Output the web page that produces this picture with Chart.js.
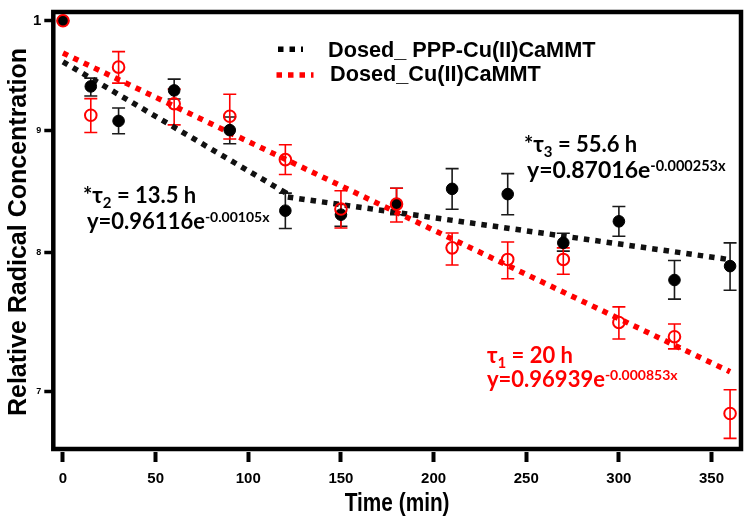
<!DOCTYPE html>
<html><head><meta charset="utf-8">
<script src="https://cdn.jsdelivr.net/npm/chart.js@4"></script>
<style>html,body{margin:0;padding:0;background:#fff}#wrap{width:752px;height:522px}</style>
</head><body><div id="wrap"><canvas id="c" width="752" height="522"></canvas></div>
<script>
// ---- data ----
const times = [0,15,30,60,90,120,150,180,210,240,270,300,330,360];
const pppMean = [1.0,0.9387,0.9080,0.9351,0.9000,0.8328,0.8296,0.8381,0.8505,0.8462,0.8074,0.8243,0.7790,0.7895];
const pppHigh = [1.0,0.9462,0.9194,0.9453,0.9115,0.8470,0.8378,0.8510,0.8672,0.8631,0.8149,0.8362,0.7938,0.8074];
const pppLow  = [1.0,0.9301,0.8968,0.9274,0.8883,0.8186,0.8204,0.8296,0.8339,0.8296,0.8010,0.8125,0.7648,0.7714];
const cuMean  = [1.0,0.9130,0.9563,0.9232,0.9121,0.8748,0.8341,0.8381,0.8035,0.7946,0.7946,0.7478,0.7376,0.6850];
const cuHigh  = [1.0,0.9277,0.9707,0.9363,0.9316,0.8874,0.8489,0.8510,0.8151,0.8081,0.8035,0.7591,0.7467,0.7009];
const cuLow   = [1.0,0.8979,0.9417,0.9046,0.8923,0.8623,0.8190,0.8238,0.7903,0.7800,0.7833,0.7360,0.7290,0.6688];
// fitted exponential curves (straight lines on the log axis) - endpoints
const pppFitX = [0,120,120,360];
const pppFitY = [0.9612,0.8474,0.8441,0.7944];
const cuFitX = [0,360];
const cuFitY = [0.9694,0.7131];
const xTicks = [0,50,100,150,200,250,300,350];
const yTicks = [0.7,0.8,0.9,1];
const yTickLabels = ['7','8','9','1'];
const pppLabel = 'Dosed_ PPP-Cu(II)CaMMT';
const cuLabel = 'Dosed_Cu(II)CaMMT';
const xTitle = 'Time (min)';
const yTitle = 'Relative Radical Concentration';

const RED = '#ff0000', BLK = '#000000';
const sans = "'Liberation Sans',Arial,sans-serif";
const annFont = "Lato,'Open Sans',sans-serif";

const framePlugin = {
  id:'frame',
  beforeDatasetsDraw(chart){
    const {ctx, chartArea:a} = chart;
    ctx.save(); ctx.strokeStyle='#000'; ctx.lineWidth=4.5;
    ctx.strokeRect(a.left, a.top, a.right-a.left, a.bottom-3-a.top);
    ctx.restore();
  }
};

const errPlugin = {
  id:'err',
  beforeDatasetsDraw(chart){
    const ctx=chart.ctx, xs=chart.scales.x, ys=chart.scales.y;
    const sets=[[pppLow,pppHigh,'#1a1a1a'],[cuLow,cuHigh,RED]];
    ctx.save(); ctx.lineWidth=1.6;
    sets.forEach(([lo,hi,col])=>{
      ctx.strokeStyle=col;
      times.forEach((t,i)=>{
        if (lo[i]===hi[i]) return;
        const x=xs.getPixelForValue(t), y1=ys.getPixelForValue(hi[i]), y2=ys.getPixelForValue(lo[i]);
        ctx.beginPath(); ctx.moveTo(x,y1); ctx.lineTo(x,y2);
        ctx.moveTo(x-6.5,y1); ctx.lineTo(x+6.5,y1);
        ctx.moveTo(x-6.5,y2); ctx.lineTo(x+6.5,y2); ctx.stroke();
      });
    });
    ctx.restore();
  }
};

function rich(ctx, x, y, parts, color){
  ctx.fillStyle=color; ctx.textBaseline='alphabetic'; ctx.textAlign='left';
  let cx=x;
  parts.forEach(p=>{
    ctx.font='bold '+p.s+'px '+annFont;
    ctx.fillText(p.t, cx, y+(p.dy||0));
    cx+=ctx.measureText(p.t).width;
  });
}

const annPlugin = {
  id:'ann',
  afterDraw(chart){
    const ctx=chart.ctx, a=chart.chartArea;
    ctx.save();
    // condensed x-axis title
    ctx.save();
    ctx.translate((a.left+a.right)/2, 503.5); ctx.scale(0.8,1);
    ctx.fillStyle='#000'; ctx.font='bold 26px '+sans; ctx.textAlign='center'; ctx.textBaseline='middle';
    ctx.fillText(xTitle,0,0);
    ctx.restore();
    // legend
    const items=[[pppLabel,BLK,278,303,49.3,328,56.7],[cuLabel,RED,276.5,313.5,75,330,80.5]];
    items.forEach(([lab,col,x0,x1,ly,tx,ty])=>{
      ctx.save(); ctx.strokeStyle=col; ctx.lineWidth=5.5; ctx.setLineDash([5.5,6]); ctx.lineCap='butt';
      ctx.beginPath(); ctx.moveTo(x0,ly); ctx.lineTo(x1,ly); ctx.stroke(); ctx.restore();
      ctx.fillStyle='#000'; ctx.font='bold 21.7px '+sans; ctx.textBaseline='alphabetic'; ctx.textAlign='left';
      ctx.fillText(lab, tx, ty);
    });
    // annotations
    rich(ctx,83,203,[{t:'*',s:22},{t:'τ',s:22},{t:'2',s:15,dy:5},{t:' = 13.5 h',s:22}],BLK);
    rich(ctx,87,229,[{t:'y=0.96116e',s:22},{t:'-0.00105x',s:14,dy:-7}],BLK);
    rich(ctx,524,152,[{t:'*',s:22},{t:'τ',s:22},{t:'3',s:15,dy:5},{t:' = 55.6 h',s:22}],BLK);
    rich(ctx,527,178,[{t:'y=0.87016e',s:23},{t:'-0.000253x',s:14.5,dy:-7}],BLK);
    rich(ctx,487,363,[{t:'τ',s:22},{t:'1',s:15,dy:5},{t:' = 20 h',s:22}],RED);
    rich(ctx,487,387,[{t:'y=0.96939e',s:22},{t:'-0.000853x',s:14,dy:-7}],RED);
    ctx.restore();
  }
};

new Chart(document.getElementById('c'), {
  type:'scatter',
  data:{datasets:[
    {label:cuLabel, data:times.map((t,i)=>({x:t,y:cuMean[i]})), pointStyle:'circle', pointRadius:5.8,
     pointBorderWidth:2, pointBorderColor:RED, pointBackgroundColor:'rgba(0,0,0,0)', showLine:false, order:0},
    {label:pppLabel, data:times.map((t,i)=>({x:t,y:pppMean[i]})), pointStyle:'circle', pointRadius:5.8,
     pointBorderWidth:1, pointBorderColor:BLK, pointBackgroundColor:BLK, showLine:false, order:1},
    {label:cuLabel+' fit', type:'line', data:cuFitX.map((x,i)=>({x:x,y:cuFitY[i]})), borderColor:RED,
     borderWidth:5.5, borderDash:[5.5,6], pointRadius:0, fill:false, tension:0, order:2},
    {label:pppLabel+' fit', type:'line', data:pppFitX.map((x,i)=>({x:x,y:pppFitY[i]})), borderColor:'#111',
     borderWidth:5.5, borderDash:[5.5,6], pointRadius:0, fill:false, tension:0, order:3}
  ]},
  options:{
    responsive:false, animation:false, devicePixelRatio:1,
    layout:{padding:{left:0,right:11,top:9.5,bottom:0}},
    plugins:{legend:{display:false}, tooltip:{enabled:false}},
    scales:{
      x:{type:'linear', min:-5.23, max:365.9,
        afterFit(s){ s.height=70; },
        afterBuildTicks(s){ s.ticks=xTicks.map(v=>({value:v})); },
        grid:{display:true, drawOnChartArea:false, drawTicks:true, tickLength:10, tickWidth:4, tickColor:'#000'},
        border:{display:false},
        ticks:{color:'#000', padding:8, autoSkip:false, maxRotation:0, font:{family:sans, size:15, weight:'bold'}},
        title:{display:false, text:xTitle}
      },
      y:{type:'logarithmic', min:0.660065, max:1.008465,
        afterFit(s){ s.width=53.3; },
        afterBuildTicks(s){ s.ticks=yTicks.map(v=>({value:v})); },
        grid:{display:true, drawOnChartArea:false, drawTicks:true, tickLength:9, tickWidth:3.5, tickColor:'#000'},
        border:{display:false},
        ticks:{color:'#000', padding:3, autoSkip:false,
          callback:(v)=>{ const i=yTicks.indexOf(v); return i>=0?yTickLabels[i]:''; },
          font:(c)=> (c.tick && c.tick.value===1) ? {family:sans,size:15,weight:'bold'} : {family:sans,size:9,weight:'bold'}},
        title:{display:true, text:yTitle, color:'#000', font:{family:sans, size:25, weight:'bold'}, padding:{top:4,bottom:0}}
      }
    }
  },
  plugins:[framePlugin, errPlugin, annPlugin]
});
</script>
</body></html>
